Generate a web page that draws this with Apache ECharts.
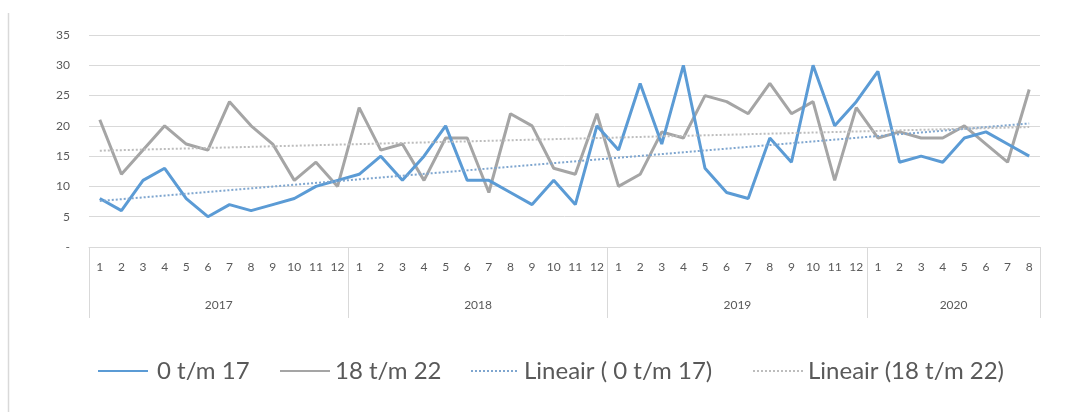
<!DOCTYPE html>
<html><head><meta charset="utf-8">
<script src="https://cdn.jsdelivr.net/npm/echarts@6/dist/echarts.min.js"></script>
<style>html,body{margin:0;padding:0;background:#fff}#c{width:1067px;height:412px}</style>
</head><body><div id="c"></div>
<script>
// ---- data ----
const years = ['2017', '2018', '2019', '2020'];
const monthsPerYear = [12, 12, 12, 8];
const seriesNames = ['0 t/m 17', '18 t/m 22', 'Lineair ( 0 t/m 17)', 'Lineair (18 t/m 22)'];
const values0to17 = [
  8, 6, 11, 13, 8, 5, 7, 6, 7, 8, 10, 11,
  12, 15, 11, 15, 20, 11, 11, 9, 7, 11, 7, 20,
  16, 27, 17, 30, 13, 9, 8, 18, 14, 30, 20, 24,
  29, 14, 15, 14, 18, 19, 17, 15
];
const values18to22 = [
  21, 12, 16, 20, 17, 16, 24, 20, 17, 11, 14, 10,
  23, 16, 17, 11, 18, 18, 9, 22, 20, 13, 12, 22,
  10, 12, 19, 18, 25, 24, 22, 27, 22, 24, 11, 23,
  18, 19, 18, 18, 20, 17, 14, 26
];
// linear trend lines: value at first and last month
const trend0to17 = [7.6, 20.4];
const trend18to22 = [15.9, 19.8];
const yMin = 0, yMax = 35, yInterval = 5;

// ---- build axis data ----
const monthCats = [];
years.forEach((y, i) => { for (let m = 1; m <= monthsPerYear[i]; m++) monthCats.push(y + '-' + m); });
const n = monthCats.length;
const boundaryCats = [];
const boundaryLabel = {};
const boundaryTicks = new Set([0]);
let acc = 0;
years.forEach((y, i) => {
  boundaryLabel[acc + monthsPerYear[i] / 2] = y;
  acc += monthsPerYear[i];
  boundaryTicks.add(acc);
});
for (let i = 0; i <= n; i++) boundaryCats.push('b' + i);

function trendData(tr) {
  const d = new Array(n).fill(null);
  d[0] = tr[0]; d[n - 1] = tr[1];
  return d;
}

const font = 'Lato, "Open Sans", sans-serif';
const legendLefts = [92, 274, 465, 747];
const legendWidths = [50, 50, 48, 50];
const legends = seriesNames.map((name, i) => ({
  left: legendLefts[i], top: 354,
  itemWidth: legendWidths[i], itemHeight: 14,
  itemStyle: { opacity: 0 },
  textStyle: { fontFamily: font, fontSize: 24, color: '#595959', padding: [0, 0, 0, i === 0 ? 4 : 0] },
  data: [name]
}));

const chart = echarts.init(document.getElementById('c'), null, { renderer: 'canvas' });
chart.setOption({
  animation: false,
  backgroundColor: '#ffffff',
  grid: { left: 89, right: 27, top: 35, bottom: 165 },
  graphic: [{
    type: 'line', shape: { x1: 8.5, y1: 13, x2: 8.5, y2: 412 },
    style: { stroke: '#d9d9d9', lineWidth: 1.5 }
  }],
  legend: legends,
  xAxis: [{
    type: 'category', position: 'bottom', data: monthCats,
    axisLine: { lineStyle: { color: '#d9d9d9', width: 1 } },
    axisTick: { show: false },
    axisLabel: {
      interval: 0, margin: 14, color: '#595959', fontFamily: font, fontSize: 12,
      formatter: v => v.split('-')[1]
    },
    splitLine: { show: false }
  }, {
    type: 'category', position: 'bottom', data: boundaryCats, boundaryGap: false,
    axisLine: { show: false },
    axisTick: {
      show: true, length: 71,
      interval: (idx) => boundaryTicks.has(idx),
      lineStyle: { color: '#d9d9d9', width: 1 }
    },
    axisLabel: {
      interval: 0, margin: 52, color: '#595959', fontFamily: font, fontSize: 12,
      formatter: (v, idx) => boundaryLabel[idx] || ''
    },
    splitLine: { show: false }
  }],
  yAxis: {
    type: 'value', min: yMin, max: yMax, interval: yInterval,
    axisLine: { show: false }, axisTick: { show: false },
    axisLabel: {
      margin: 19, color: '#595959', fontFamily: font, fontSize: 12,
      formatter: v => v === 0 ? '-' : String(v)
    },
    splitLine: { lineStyle: { color: '#d9d9d9', width: 1 } }
  },
  series: [{
    name: seriesNames[0], type: 'line', data: values0to17, xAxisIndex: 0,
    symbol: 'none', showSymbol: false,
    lineStyle: { color: '#5b9bd5', width: 3 }, itemStyle: { color: '#5b9bd5' }, z: 3
  }, {
    name: seriesNames[1], type: 'line', data: values18to22, xAxisIndex: 0,
    symbol: 'none', showSymbol: false,
    lineStyle: { color: '#a5a5a5', width: 3 }, itemStyle: { color: '#a5a5a5' }, z: 2
  }, {
    name: seriesNames[2], type: 'line', data: trendData(trend0to17), xAxisIndex: 0,
    connectNulls: true, symbol: 'none', showSymbol: false,
    lineStyle: { color: '#7fa6cf', width: 2, type: [2, 2] }, itemStyle: { color: '#7fa6cf' }, z: 4
  }, {
    name: seriesNames[3], type: 'line', data: trendData(trend18to22), xAxisIndex: 0,
    connectNulls: true, symbol: 'none', showSymbol: false,
    lineStyle: { color: '#bdbdbd', width: 2, type: [2, 2] }, itemStyle: { color: '#bdbdbd' }, z: 4
  }]
});
</script>
</body></html>
